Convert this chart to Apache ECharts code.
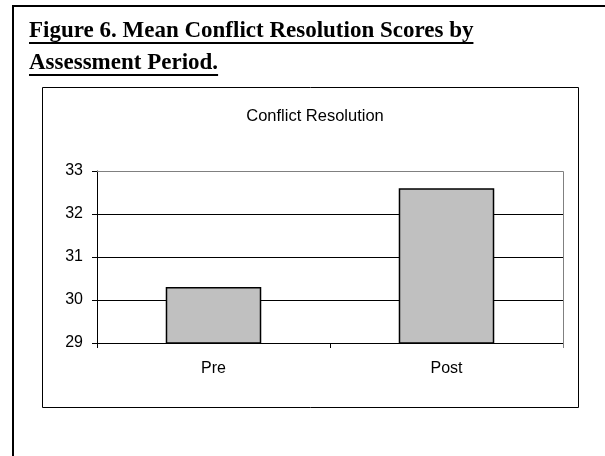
<!DOCTYPE html>
<html>
<head>
<meta charset="utf-8">
<script src="https://cdn.jsdelivr.net/npm/echarts@6/dist/echarts.min.js"></script>
<style>
  html, body { margin: 0; padding: 0; background: #fff; }
  #chart { width: 605px; height: 456px; }
</style>
</head>
<body>
<div id="chart"></div>
<script>
// Figure heading and chart data
const headingLines = ['Figure 6. Mean Conflict Resolution Scores by', 'Assessment Period.'];
const chartTitle = 'Conflict Resolution';
const periods = ['Pre', 'Post'];
const meanScores = [30.3, 32.6];
const yTicks = [29, 30, 31, 32, 33];

const headingFont = 'bold 23px "Liberation Serif", "Times New Roman", serif';
const measureCtx = document.createElement('canvas').getContext('2d');
measureCtx.font = headingFont;

const headingX = 29;
const headingBaselines = [38, 70];

// heading text with an underline under each line
const headingGraphics = [];
headingLines.forEach((line, i) => {
  const w = measureCtx.measureText(line).width;
  headingGraphics.push({
    type: 'text',
    left: headingX,
    top: headingBaselines[i] - 18,
    style: { text: line, font: headingFont, fill: '#000', textVerticalAlign: 'top' }
  });
  headingGraphics.push({
    type: 'line',
    shape: { x1: headingX, y1: headingBaselines[i] + 5, x2: headingX + w, y2: headingBaselines[i] + 5 },
    style: { stroke: '#000', lineWidth: 2 }
  });
});

const labelFont = 'Liberation Sans, Arial, sans-serif';
const chart = echarts.init(document.getElementById('chart'), null, { renderer: 'canvas' });

chart.setOption({
  animation: false,
  backgroundColor: '#fff',
  title: {
    text: chartTitle,
    left: 310,
    textAlign: 'center',
    top: 103,
    textStyle: { fontFamily: labelFont, fontSize: 16.5, fontWeight: 'normal', color: '#000' }
  },
  grid: { left: 97, right: 42, top: 171, bottom: 113, show: false },
  xAxis: {
    type: 'category',
    data: periods,
    boundaryGap: true,
    axisLine: { lineStyle: { color: '#000', width: 1 } },
    axisTick: { show: true, length: 5, inside: false, lineStyle: { color: '#000' } },
    axisLabel: { margin: 18, fontFamily: labelFont, fontSize: 16, color: '#000' },
    splitLine: { show: false }
  },
  yAxis: {
    type: 'value',
    min: yTicks[0],
    max: yTicks[yTicks.length - 1],
    interval: 1,
    axisLine: { show: true, lineStyle: { color: '#000', width: 1 } },
    axisTick: { show: true, length: 5, lineStyle: { color: '#000' } },
    axisLabel: { margin: 14, fontFamily: labelFont, fontSize: 16, color: '#000' },
    splitLine: { show: true, lineStyle: { color: '#000', width: 1 } }
  },
  series: [{
    type: 'bar',
    data: meanScores,
    barWidth: '41%',
    itemStyle: { color: '#c0c0c0', borderColor: '#000', borderWidth: 1.5 },
    z: 3
  }],
  graphic: [
    // outer frame (open at right and bottom)
    { type: 'polyline', shape: { points: [[13, 460], [13, 6], [610, 6]] }, style: { stroke: '#000', lineWidth: 2, fill: null } },
    // chart frame
    { type: 'rect', shape: { x: 42.5, y: 87.5, width: 536, height: 320 }, style: { stroke: '#000', lineWidth: 1, fill: null } },
    // plot area top/right border
    { type: 'polyline', shape: { points: [[97, 171.5], [563.5, 171.5], [563.5, 348]] }, style: { stroke: '#808080', lineWidth: 1, fill: null }, z: 4 }
  ].concat(headingGraphics)
});
</script>
</body>
</html>
